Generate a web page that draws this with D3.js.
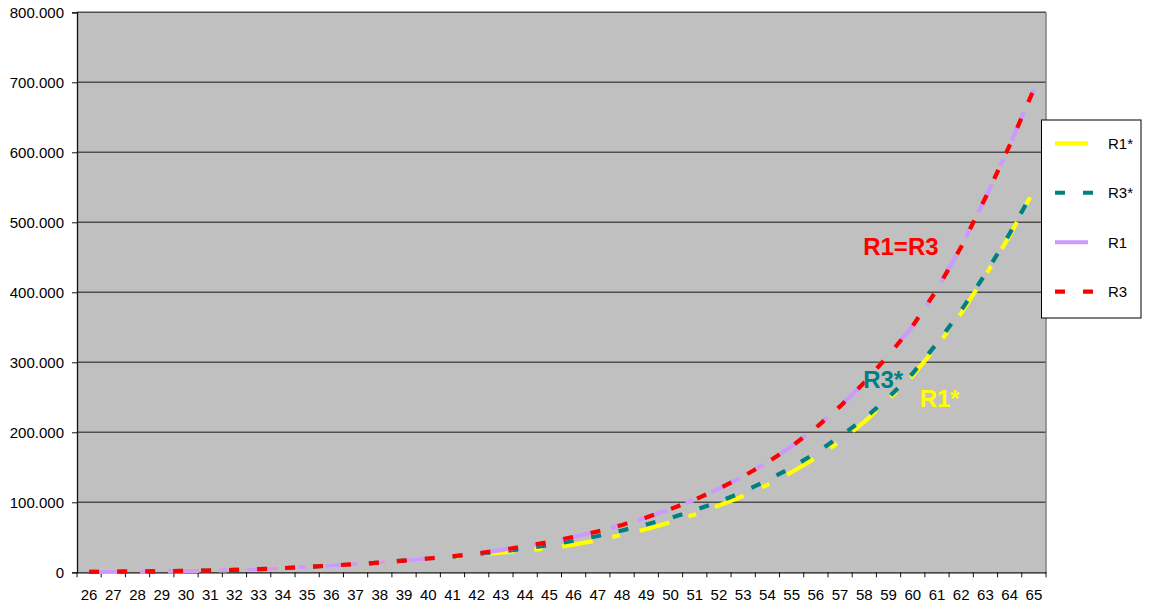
<!DOCTYPE html>
<html>
<head>
<meta charset="utf-8">
<script src="https://cdn.jsdelivr.net/npm/d3@7"></script>
<style>
  html, body { margin: 0; padding: 0; background: #ffffff; }
  svg { display: block; }
  text { font-family: "Liberation Sans", Arial, sans-serif; }
</style>
</head>
<body>
<svg id="chart" width="1149" height="607"></svg>
<script>
// Age categories along the x axis
const ages = [26, 27, 28, 29, 30, 31, 32, 33, 34, 35, 36, 37, 38, 39, 40, 41, 42, 43, 44, 45,
              46, 47, 48, 49, 50, 51, 52, 53, 54, 55, 56, 57, 58, 59, 60, 61, 62, 63, 64, 65];

// Series values (in units)
const r1StarValues = [500, 800, 1100, 1500, 2000, 2600, 3400, 4500, 6000, 7700, 9700, 11600, 13900, 16700, 19700, 22300, 25300, 28000, 31000, 34500,
                      39500, 46000, 53500, 61500, 71500, 82500, 95500, 109000, 125000, 143000, 163500, 187000, 215000, 247000, 281000, 323000, 370000, 424000, 481000, 546000];
const r3StarValues = [500, 800, 1100, 1500, 2000, 2600, 3400, 4500, 6000, 7700, 9700, 11600, 13900, 16700, 19700, 22500, 26000, 29800, 34000, 39000,
                      45300, 51800, 59800, 68400, 77700, 88700, 100900, 114900, 131500, 149800, 170600, 194200, 219500, 249700, 284400, 327200, 374200, 426300, 483800, 546000];
const r1Values = [500, 800, 1100, 1500, 2000, 2600, 3400, 4500, 6000, 7700, 9700, 11600, 13900, 16700, 19700, 22800, 26800, 31700, 37100, 43400,
                  50600, 58500, 67600, 78400, 90300, 103800, 119500, 137000, 157000, 180000, 206500, 237000, 271000, 310000, 352000, 404000, 465000, 535000, 610000, 690000];
const r3Values = [500, 800, 1100, 1500, 2000, 2600, 3400, 4500, 6000, 7700, 9700, 11600, 13900, 16700, 19700, 22800, 26800, 31700, 37100, 43400,
                  50600, 58500, 67600, 78400, 90300, 103800, 119500, 137000, 157000, 180000, 206500, 237000, 271000, 310000, 352000, 404000, 465000, 535000, 610000, 690000];

// Y axis tick values
const yTickValues = [0, 100000, 200000, 300000, 400000, 500000, 600000, 700000, 800000];

// Series names and legend labels
const seriesNames = ["R1*", "R3*", "R1", "R3"];

// Annotation texts placed inside the plot
const noteTexts = ["R1=R3", "R3*", "R1*"];

const series = [
  { name: seriesNames[0], values: r1StarValues, color: "#FFFF00", dash: "31,20,8,20" },
  { name: seriesNames[1], values: r3StarValues, color: "#008080", dash: "10,18" },
  { name: seriesNames[2], values: r1Values,     color: "#CC99FF", dash: "31,20,8,20" },
  { name: seriesNames[3], values: r3Values,     color: "#FF0000", dash: "10,18" }
];

const notes = [
  { text: noteTexts[0], age: 58, dx: 11, value: 453000, color: "#FF0000" },
  { text: noteTexts[1], age: 58, dx: 11, value: 263000, color: "#008080" },
  { text: noteTexts[2], age: 60, dx: 19, value: 236000, color: "#FFFF00" }
];

const svg = d3.select("#chart");
const plot = { left: 77, right: 1046, top: 12.3, bottom: 572.3 };

const x = d3.scaleBand()
  .domain(ages.map(String))
  .range([plot.left, plot.right])
  .padding(0);

const y = d3.scaleLinear()
  .domain([0, 800000])
  .range([plot.bottom, plot.top]);

const locale = d3.formatLocale({ decimal: ",", thousands: ".", grouping: [3], currency: ["", " €"] });
const fmt = locale.format(",");

// Plot background
svg.append("rect")
  .attr("x", plot.left).attr("y", plot.top)
  .attr("width", plot.right - plot.left)
  .attr("height", plot.bottom - plot.top)
  .attr("fill", "#C0C0C0");

// Horizontal gridlines
svg.append("g")
  .selectAll("line")
  .data(yTickValues.filter(v => v > 0))
  .join("line")
  .attr("x1", plot.left).attr("x2", plot.right)
  .attr("y1", d => y(d)).attr("y2", d => y(d))
  .attr("stroke", "#4f4f4f")
  .attr("stroke-width", 1.6);

// Right border of the plot
svg.append("line")
  .attr("x1", plot.right).attr("x2", plot.right)
  .attr("y1", plot.top).attr("y2", plot.bottom)
  .attr("stroke", "#808080")
  .attr("stroke-width", 1.5);

// Y axis
const yAxis = svg.append("g")
  .attr("transform", `translate(${plot.left},0)`)
  .call(d3.axisLeft(y).tickValues(yTickValues).tickFormat(fmt).tickSize(5).tickPadding(8));
yAxis.select(".domain").attr("stroke", "#111").attr("stroke-width", 1.3);
yAxis.selectAll(".tick line").attr("stroke", "#111");
yAxis.selectAll(".tick text")
  .attr("font-size", 15)
  .attr("fill", "#000")
  .style("font-family", "'Liberation Sans', Arial, sans-serif");

// X axis: labels centred in each band, ticks at band boundaries
const xAxis = svg.append("g")
  .attr("transform", `translate(0,${plot.bottom})`)
  .call(d3.axisBottom(x).tickSize(0).tickPadding(17));
xAxis.select(".domain").attr("stroke", "#111").attr("stroke-width", 1.3);
xAxis.selectAll(".tick text")
  .attr("font-size", 15)
  .attr("fill", "#000")
  .style("font-family", "'Liberation Sans', Arial, sans-serif");

const boundaries = ages.map(a => x(String(a))).concat([plot.right]);
svg.append("g")
  .selectAll("line")
  .data(boundaries)
  .join("line")
  .attr("x1", d => d).attr("x2", d => d)
  .attr("y1", plot.bottom).attr("y2", plot.bottom + 5)
  .attr("stroke", "#111")
  .attr("stroke-width", 1);

// Series lines
const line = d3.line()
  .x((d, i) => x(String(ages[i])) + x.bandwidth() / 2)
  .y(d => y(d));

svg.append("g")
  .selectAll("path")
  .data(series)
  .join("path")
  .attr("d", d => line(d.values))
  .attr("fill", "none")
  .attr("stroke", d => d.color)
  .attr("stroke-width", 4.2)
  .attr("stroke-dasharray", d => d.dash)
  .attr("stroke-linecap", "butt");

// Annotations
svg.append("g")
  .selectAll("text")
  .data(notes)
  .join("text")
  .attr("x", d => x(String(d.age)) + d.dx)
  .attr("y", d => y(d.value))
  .attr("fill", d => d.color)
  .attr("font-size", 24)
  .attr("font-weight", "bold")
  .text(d => d.text);

// Legend
const legend = svg.append("g");
legend.append("rect")
  .attr("x", 1041.5).attr("y", 120)
  .attr("width", 99.5).attr("height", 198)
  .attr("fill", "#ffffff")
  .attr("stroke", "#000")
  .attr("stroke-width", 1);

const legendY = d3.scalePoint()
  .domain(seriesNames)
  .range([143.3, 291.7]);

const items = legend.selectAll("g.item")
  .data(series)
  .join("g")
  .attr("class", "item")
  .attr("transform", d => `translate(0,${legendY(d.name)})`);

items.append("line")
  .attr("x1", 1055).attr("x2", d => d.dash === "10,18" ? 1093.5 : 1088)
  .attr("y1", 0).attr("y2", 0)
  .attr("stroke", d => d.color)
  .attr("stroke-width", 4.2)
  .attr("stroke-dasharray", d => d.dash === "10,18" ? "10,18" : null);

items.append("text")
  .attr("x", 1108)
  .attr("y", 0)
  .attr("dy", "0.36em")
  .attr("font-size", 15)
  .attr("fill", "#000")
  .text(d => d.name);
</script>
</body>
</html>
